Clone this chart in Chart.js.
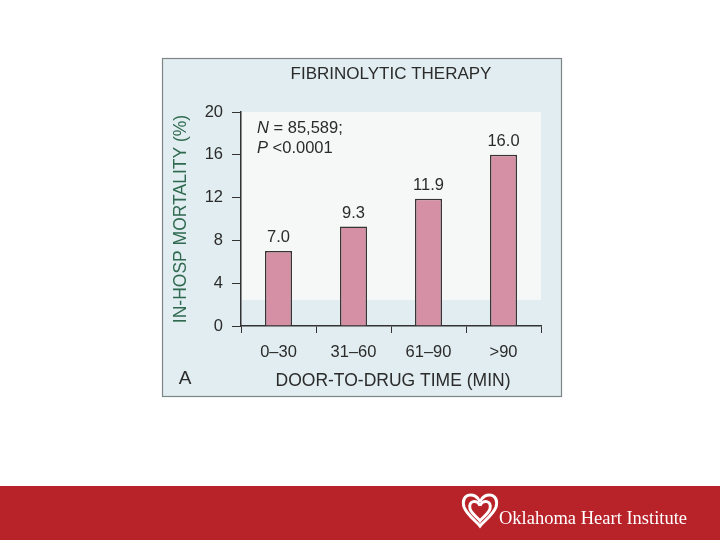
<!DOCTYPE html>
<html>
<head>
<meta charset="utf-8">
<script src="https://cdn.jsdelivr.net/npm/chart.js@4"></script>
<style>
  html, body { margin: 0; padding: 0; background: #ffffff; }
  #c { display: block; }
</style>
</head>
<body>
<canvas id="c" width="720" height="540"></canvas>
<script>
const categories = ["0\u201330", "31\u201360", "61\u201390", ">90"];
const mortality = [7.0, 9.3, 11.9, 16.0];
const valueLabels = ["7.0", "9.3", "11.9", "16.0"];
const yTickValues = [0, 4, 8, 12, 16, 20];

const chartTitle = "FIBRINOLYTIC THERAPY";
const yTitle = "IN-HOSP MORTALITY (%)";
const xTitle = "DOOR-TO-DRUG TIME (MIN)";
const panelLetter = "A";
const noteN = ["N", " = 85,589;"];
const noteP = ["P", " <0.0001"];
const brand = "Oklahoma Heart Institute";

const FONT = "'Liberation Sans', Arial, Helvetica, sans-serif";

const decor = {
  id: 'decor',
  beforeDraw(chart) {
    const ctx = chart.ctx;
    const ca = chart.chartArea;
    ctx.save();
    ctx.fillStyle = '#ffffff';
    ctx.fillRect(0, 0, 720, 540);
    // scanned figure box
    ctx.fillStyle = '#e1edf0';
    ctx.fillRect(162, 58, 399, 338);
    ctx.strokeStyle = '#7d8587';
    ctx.lineWidth = 1.2;
    ctx.strokeRect(162.5, 58.5, 399, 338);
    // lighter inner panel
    ctx.fillStyle = '#f5f8f6';
    ctx.fillRect(ca.left + 1, ca.top, ca.right - ca.left - 1, 188);
    // red banner
    ctx.fillStyle = '#b8232a';
    ctx.fillRect(0, 486, 720, 54);
    // heart logo
    ctx.strokeStyle = '#ffffff';
    ctx.lineWidth = 3;
    const hx = 480, hy = 499;
    for (let k = 0; k < 2; k++) {
      const s = k === 0 ? 1 : 0.62;
      const oy = k === 0 ? 0 : 5;
      ctx.beginPath();
      ctx.moveTo(hx, hy + 3 * s + oy);
      ctx.bezierCurveTo(hx - 4 * s, hy - 8 * s + oy, hx - 20 * s, hy - 6 * s + oy, hx - 16 * s, hy + 8 * s + oy);
      ctx.bezierCurveTo(hx - 13 * s, hy + 16 * s + oy, hx - 4 * s, hy + 22 * s + oy, hx, hy + 27 * s + oy);
      ctx.bezierCurveTo(hx + 4 * s, hy + 22 * s + oy, hx + 13 * s, hy + 16 * s + oy, hx + 16 * s, hy + 8 * s + oy);
      ctx.bezierCurveTo(hx + 20 * s, hy - 6 * s + oy, hx + 4 * s, hy - 8 * s + oy, hx, hy + 3 * s + oy);
      ctx.stroke();
    }
    ctx.fillStyle = '#ffffff';
    ctx.font = "18.5px 'Liberation Serif', 'DejaVu Serif', serif";
    ctx.textAlign = 'left';
    ctx.textBaseline = 'middle';
    ctx.fillText(brand, 499, 519);
    ctx.restore();
  },
  afterDraw(chart) {
    const ctx = chart.ctx;
    const meta = chart.getDatasetMeta(0);
    ctx.save();
    ctx.fillStyle = '#2b2b2b';
    // title
    ctx.font = "17px " + FONT;
    ctx.textAlign = 'center';
    ctx.textBaseline = 'middle';
    ctx.fillText(chartTitle, 391, 74);
    // value labels
    ctx.font = "16.5px " + FONT;
    ctx.textBaseline = 'bottom';
    meta.data.forEach((bar, i) => {
      ctx.fillText(valueLabels[i], bar.x, bar.y - 5);
    });
    // N and P notes
    ctx.textAlign = 'left';
    ctx.textBaseline = 'middle';
    let x = 257;
    ctx.font = "italic 16.5px " + FONT;
    ctx.fillText(noteN[0], x, 128);
    let w = ctx.measureText(noteN[0]).width;
    ctx.font = "16.5px " + FONT;
    ctx.fillText(noteN[1], x + w, 128);
    ctx.font = "italic 16.5px " + FONT;
    ctx.fillText(noteP[0], x, 148);
    w = ctx.measureText(noteP[0]).width;
    ctx.font = "16.5px " + FONT;
    ctx.fillText(noteP[1], x + w, 148);
    // x title
    ctx.textAlign = 'center';
    ctx.font = "17.5px " + FONT;
    ctx.fillText(xTitle, 393, 381);
    // panel letter
    ctx.font = "19px " + FONT;
    ctx.fillText(panelLetter, 185, 379);
    // y title
    ctx.translate(181, 219);
    ctx.rotate(-Math.PI / 2);
    ctx.font = "17.5px " + FONT;
    ctx.fillStyle = '#2f6a50';
    ctx.fillText(yTitle, 0, 0);
    ctx.restore();
  }
};

new Chart(document.getElementById('c'), {
  type: 'bar',
  data: {
    labels: categories,
    datasets: [{
      data: mortality,
      backgroundColor: '#d590a5',
      borderColor: '#3a3535',
      borderWidth: 1.5,
      borderSkipped: 'bottom',
      barPercentage: 0.36,
      categoryPercentage: 1.0
    }]
  },
  options: {
    responsive: false,
    devicePixelRatio: 1,
    animation: false,
    layout: { padding: { left: 161, right: 179, top: 112, bottom: 154 } },
    plugins: { legend: { display: false }, tooltip: { enabled: false } },
    scales: {
      x: {
        afterFit(s) { s.height = 60; },
        grid: { display: true, drawOnChartArea: false, drawTicks: true, tickLength: 7, color: '#333', tickColor: '#333', offset: true },
        border: { display: true, color: '#333', width: 1.5 },
        ticks: { color: '#2b2b2b', font: { family: FONT, size: 16.5 }, padding: 10 }
      },
      y: {
        min: 0, max: 20,
        afterFit(s) { s.width = 80; },
        afterBuildTicks(s) { s.ticks = yTickValues.map(v => ({ value: v })); },
        grid: { display: true, drawOnChartArea: false, drawTicks: true, tickLength: 9, color: '#333', tickColor: '#333' },
        border: { display: true, color: '#333', width: 1.5 },
        ticks: { color: '#2b2b2b', font: { family: FONT, size: 16.5 }, padding: 9 }
      }
    }
  },
  plugins: [decor]
});
</script>
</body>
</html>
